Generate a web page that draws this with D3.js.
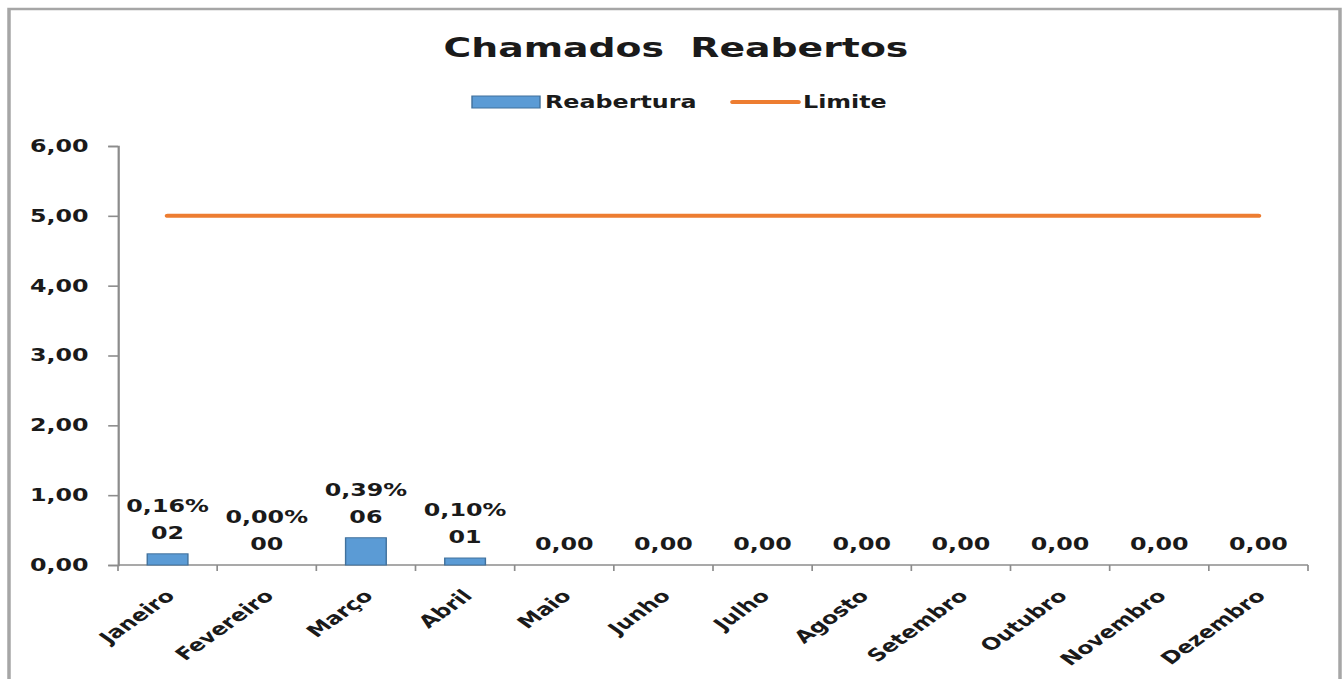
<!DOCTYPE html>
<html>
<head>
<meta charset="utf-8">
<script src="https://cdn.jsdelivr.net/npm/d3@7"></script>
<style>
  html, body { margin: 0; padding: 0; background: #fff; }
  svg { display: block; }
  text { font-family: "DejaVu Sans", Verdana, sans-serif; font-weight: bold; fill: #1a1a1a; }
</style>
</head>
<body>
<svg id="chart"></svg>
<script>
// data
const months = ["Janeiro", "Fevereiro", "Março", "Abril", "Maio", "Junho",
                "Julho", "Agosto", "Setembro", "Outubro", "Novembro", "Dezembro"]
const reabertura = [0.16, 0.00, 0.39, 0.10, 0, 0, 0, 0, 0, 0, 0, 0]
const limite = [5, 5, 5, 5, 5, 5, 5, 5, 5, 5, 5, 5]
const pctLabels = ["0,16%", "0,00%", "0,39%", "0,10%", null, null, null, null, null, null, null, null]
const countLabels = ["02", "00", "06", "01", "0,00", "0,00", "0,00", "0,00", "0,00", "0,00", "0,00", "0,00"]
const yTicks = [0, 1, 2, 3, 4, 5, 6]

// the picture is stretched sideways, so draw in a narrower box and stretch it
const W = 1342, H = 679, sx = 1.4
const vbW = W / sx

const svg = d3.select('#chart')
    .attr('width', W)
    .attr('height', H)
    .attr('viewBox', `0 0 ${vbW} ${H}`)
    .attr('preserveAspectRatio', 'none')

const plotLeft = 118 / sx, plotRight = 1308 / sx, plotTop = 146, plotBottom = 565

// frame
svg.append('rect')
    .attr('x', 9 / sx).attr('y', 9)
    .attr('width', (1340 - 9) / sx).attr('height', 700)
    .attr('fill', 'none')
    .attr('stroke', '#a6a6a6')
    .attr('stroke-width', 2.5)

// scales
const x = d3.scaleBand().domain(months).range([plotLeft, plotRight]).padding(0)
const y = d3.scaleLinear().domain([0, 6]).range([plotBottom, plotTop])
const barW = x.bandwidth() * 0.41

// title + legend
svg.append('text')
    .attr('x', 676 / sx).attr('y', 57)
    .attr('text-anchor', 'middle')
    .style('font-size', '27px')
    .attr('xml:space', 'preserve')
    .text('Chamados  Reabertos')

const lg = svg.append('g')
lg.append('rect')
    .attr('x', 472 / sx).attr('y', 96)
    .attr('width', 68 / sx).attr('height', 12)
    .attr('fill', '#5b9bd5').attr('stroke', '#41719c').attr('stroke-width', 1)
lg.append('text')
    .attr('x', 545 / sx).attr('y', 108)
    .style('font-size', '17px')
    .text('Reabertura')
lg.append('line')
    .attr('x1', 733 / sx).attr('x2', 798 / sx)
    .attr('y1', 102).attr('y2', 102)
    .attr('stroke', '#ed7d31').attr('stroke-width', 4).attr('stroke-linecap', 'round')
lg.append('text')
    .attr('x', 803 / sx).attr('y', 108)
    .style('font-size', '17px')
    .text('Limite')

// y axis
const yAxis = d3.axisLeft(y)
    .tickValues(yTicks)
    .tickSize(7)
    .tickPadding(14)
    .tickFormat(d => d3.format('.2f')(d).replace('.', ','))
const gy = svg.append('g')
    .attr('transform', `translate(${plotLeft},0)`)
    .call(yAxis)
gy.select('.domain').attr('stroke', '#8c8c8c').attr('stroke-width', 1.6)
gy.selectAll('.tick line').attr('stroke', '#8c8c8c').attr('stroke-width', 1.6)
gy.selectAll('.tick text')
    .attr('fill', '#1a1a1a')
    .style('font-family', '"DejaVu Sans", Verdana, sans-serif')
    .style('font-size', '17px')
    .style('font-weight', 'bold')

// x axis with ticks on band edges
const gx = svg.append('g').attr('transform', `translate(0,${plotBottom})`)
gx.append('line')
    .attr('x1', plotLeft).attr('x2', plotRight)
    .attr('stroke', '#8c8c8c').attr('stroke-width', 1.6)
const edges = months.map(m => x(m)).concat([plotRight])
gx.selectAll('.xt').data(edges).join('line')
    .attr('class', 'xt')
    .attr('x1', d => d).attr('x2', d => d)
    .attr('y1', 0).attr('y2', 6)
    .attr('stroke', '#8c8c8c').attr('stroke-width', 1.2)
gx.selectAll('.xl').data(months).join('text')
    .attr('class', 'xl')
    .attr('text-anchor', 'end')
    .attr('transform', d => `translate(${x(d) + x.bandwidth() / 2 + 6},${32}) rotate(-45)`)
    .style('font-size', '17px')
    .text(d => d)

// bars
svg.selectAll('.bar').data(reabertura).join('rect')
    .attr('class', 'bar')
    .attr('x', (d, i) => x(months[i]) + (x.bandwidth() - barW) / 2)
    .attr('y', d => y(d))
    .attr('width', barW)
    .attr('height', d => plotBottom - y(d))
    .attr('fill', '#5b9bd5')
    .attr('stroke', '#41719c')
    .attr('stroke-width', 1)

// limit line
const line = d3.line()
    .x((d, i) => x(months[i]) + x.bandwidth() / 2)
    .y(d => y(d))
svg.append('path')
    .attr('d', line(limite))
    .attr('fill', 'none')
    .attr('stroke', '#ed7d31')
    .attr('stroke-width', 4)
    .attr('stroke-linecap', 'round')

// data labels
svg.selectAll('.lb').data(countLabels).join('text')
    .attr('class', 'lb')
    .attr('text-anchor', 'middle')
    .attr('x', (d, i) => x(months[i]) + x.bandwidth() / 2)
    .attr('y', (d, i) => y(reabertura[i]) - 15)
    .style('font-size', '17px')
    .text(d => d)
svg.selectAll('.lt').data(pctLabels).join('text')
    .attr('class', 'lt')
    .attr('text-anchor', 'middle')
    .attr('x', (d, i) => x(months[i]) + x.bandwidth() / 2)
    .attr('y', (d, i) => y(reabertura[i]) - 42)
    .style('font-size', '17px')
    .text(d => d || '')
</script>
</body>
</html>
